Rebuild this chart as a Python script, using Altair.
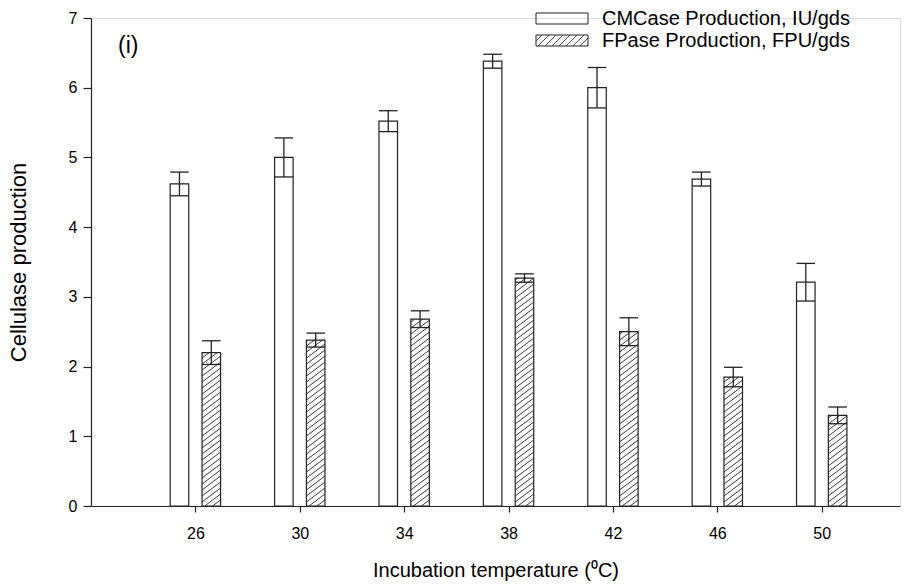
import altair as alt
import pandas as pd

# ---- data ----
temps = [26, 30, 34, 38, 42, 46, 50]
cmcase = [4.62, 5.00, 5.52, 6.38, 6.00, 4.69, 3.21]
cmcase_err = [0.17, 0.28, 0.15, 0.10, 0.29, 0.10, 0.27]
fpase = [2.20, 2.38, 2.68, 3.27, 2.50, 1.85, 1.30]
fpase_err = [0.17, 0.10, 0.12, 0.06, 0.20, 0.14, 0.12]
series_names = ["CMCase Production, IU/gds", "FPase Production, FPU/gds"]
y_ticks = [0, 1, 2, 3, 4, 5, 6, 7]

rows = []
for t, v, e in zip(temps, cmcase, cmcase_err):
    rows.append({"temp": t, "series": "CM", "value": v, "err": e})
for t, v, e in zip(temps, fpase, fpase_err):
    rows.append({"temp": t, "series": "FP", "value": v, "err": e})
df = pd.DataFrame(rows)

# ---- style / geometry (data units of the scales) ----
OFF = 0.61      # half distance between the two bars of a group (deg C)
BW = 0.71       # bar width (deg C)
HS = 0.086      # hatch vertical spacing (y units)
HR = 0.20       # hatch rise across one bar width (y units)
INK = "#222222"
FONT = "Liberation Sans"

W, H = 809, 488
xscale = alt.Scale(domain=[22, 53], nice=False, zero=False)
yscale = alt.Scale(domain=[0, 7], nice=False)

base = alt.Chart(df).transform_calculate(
    xc=f"datum.temp + (datum.series == 'CM' ? -{OFF} : {OFF})",
).transform_calculate(
    xl=f"datum.xc - {BW/2}",
    xr=f"datum.xc + {BW/2}",
    hi="datum.value + datum.err",
    lo="datum.value - datum.err",
)

xaxis = alt.Axis(
    values=temps, grid=False, tickSize=6, tickColor=INK, domainColor=INK,
    labelFont=FONT, labelFontSize=16, labelColor="black", labelPadding=13,
    title="Incubation temperature (\u2070C)", titleFont=FONT, titleFontSize=20,
    titleFontWeight="normal", titleColor="black", titlePadding=19,
    domainWidth=1.2, tickWidth=1.2,
)
yaxis = alt.Axis(
    values=y_ticks, format="d", grid=False, tickSize=8, tickColor=INK, domainColor=INK,
    labelFont=FONT, labelFontSize=16, labelColor="black", labelPadding=6,
    title="Cellulase production", titleFont=FONT, titleFontSize=22,
    titleFontWeight="normal", titleColor="black", titlePadding=38,
    domainWidth=1.2, tickWidth=1.2,
)

hatch = base.transform_filter("datum.series == 'FP'").transform_calculate(
    k=f"sequence(0, ceil((datum.value + {HR}) / {HS}) + 1)"
).transform_flatten(["k"]).transform_calculate(
    c=f"datum.k * {HS} - {HR}"
).transform_calculate(
    t0=f"max(0, -datum.c / {HR})",
    t1=f"min(1, (datum.value - datum.c) / {HR})",
).transform_filter("datum.t1 > datum.t0").transform_calculate(
    hx1=f"datum.xl + datum.t0 * {BW}",
    hx2=f"datum.xl + datum.t1 * {BW}",
    hy1=f"datum.c + datum.t0 * {HR}",
    hy2=f"datum.c + datum.t1 * {HR}",
).mark_rule(color=INK, strokeWidth=0.9).encode(
    x=alt.X("hx1:Q", scale=xscale, axis=xaxis),
    x2="hx2:Q",
    y=alt.Y("hy1:Q", scale=yscale, axis=yaxis),
    y2="hy2:Q",
)

bars = base.mark_rect(fill="white", fillOpacity=0, stroke=INK, strokeWidth=1.2).encode(
    x=alt.X("xl:Q", scale=xscale, axis=xaxis),
    x2="xr:Q",
    y=alt.Y("value:Q", scale=yscale, axis=yaxis),
    y2=alt.datum(0),
)

err_v = base.mark_rule(color=INK, strokeWidth=1.3).encode(
    x="xc:Q", y="lo:Q", y2="hi:Q"
)
cap_hi = base.mark_rule(color=INK, strokeWidth=1.3).encode(
    x="xl:Q", x2="xr:Q", y="hi:Q"
)
cap_lo = base.mark_rule(color=INK, strokeWidth=1.3).encode(
    x="xl:Q", x2="xr:Q", y="lo:Q"
)

# ---- legend (pixel layout) ----
LX0, LX1 = 445, 497          # legend box x-range relative to plot origin
LROW = [-5, 17]               # box tops relative to plot top
LBH = 11                      # box height

leg_df = pd.DataFrame({"name": series_names, "row": [0, 1]})
leg_box = alt.Chart(leg_df).transform_calculate(
    by0=f"datum.row == 0 ? {LROW[0]} : {LROW[1]}",
).transform_calculate(by1=f"datum.by0 + {LBH}").mark_rect(
    fill="white", fillOpacity=0, stroke=INK, strokeWidth=1.0
).encode(
    x=alt.value(LX0), x2=alt.value(LX1),
    y=alt.Y("by0:Q", scale=None), y2="by1:Q",
)

# hatch lines of the legend swatch (pixel space, y down)
seg = []
bx0, bx1, by0, by1 = LX0, LX1, LROW[1], LROW[1] + LBH
sp, rise = 7.0, 12.0
i = 0
while True:
    xs = bx0 + i * sp - rise
    xe = xs + rise * (by1 - by0) / 12.0
    if xs > bx1:
        break
    a0, a1 = xs, xe
    ya0, ya1 = by1, by0
    if a0 < bx0:
        ya0 = by1 - (bx0 - a0) / (xe - xs) * (by1 - by0)
        a0 = bx0
    if a1 > bx1:
        ya1 = by1 - (bx1 - xs) / (xe - xs) * (by1 - by0)
        a1 = bx1
    if a1 > a0:
        seg.append({"x": a0, "x2": a1, "y": ya0, "y2": ya1})
    i += 1
leg_hatch = alt.Chart(pd.DataFrame(seg)).mark_rule(color=INK, strokeWidth=0.8).encode(
    x=alt.X("x:Q", scale=None), x2="x2:Q",
    y=alt.Y("y:Q", scale=None), y2="y2:Q",
)

leg_text = alt.Chart(leg_df).transform_calculate(
    ty=f"(datum.row == 0 ? {LROW[0]} : {LROW[1]}) + {LBH/2}"
).mark_text(
    align="left", baseline="middle", font=FONT, fontSize=20, color="black", dx=0
).encode(
    x=alt.value(LX1 + 14), y=alt.Y("ty:Q", scale=None), text="name:N"
)

panel_label = alt.Chart(pd.DataFrame({"t": ["(i)"]})).mark_text(
    align="left", baseline="middle", font=FONT, fontSize=23, color="black"
).encode(x=alt.value(27), y=alt.value(28), text="t:N")

chart = alt.layer(
    hatch, bars, err_v, cap_hi, cap_lo, leg_box, leg_hatch, leg_text, panel_label
).properties(
    width=W, height=H,
    padding={"left": 91, "top": 18, "right": 13, "bottom": 81},
    autosize=alt.AutoSizeParams(type="none"),
).configure_view(stroke=None).configure(background="white")

chart.save("out.html", embed_options={"renderer": "svg", "actions": False})
